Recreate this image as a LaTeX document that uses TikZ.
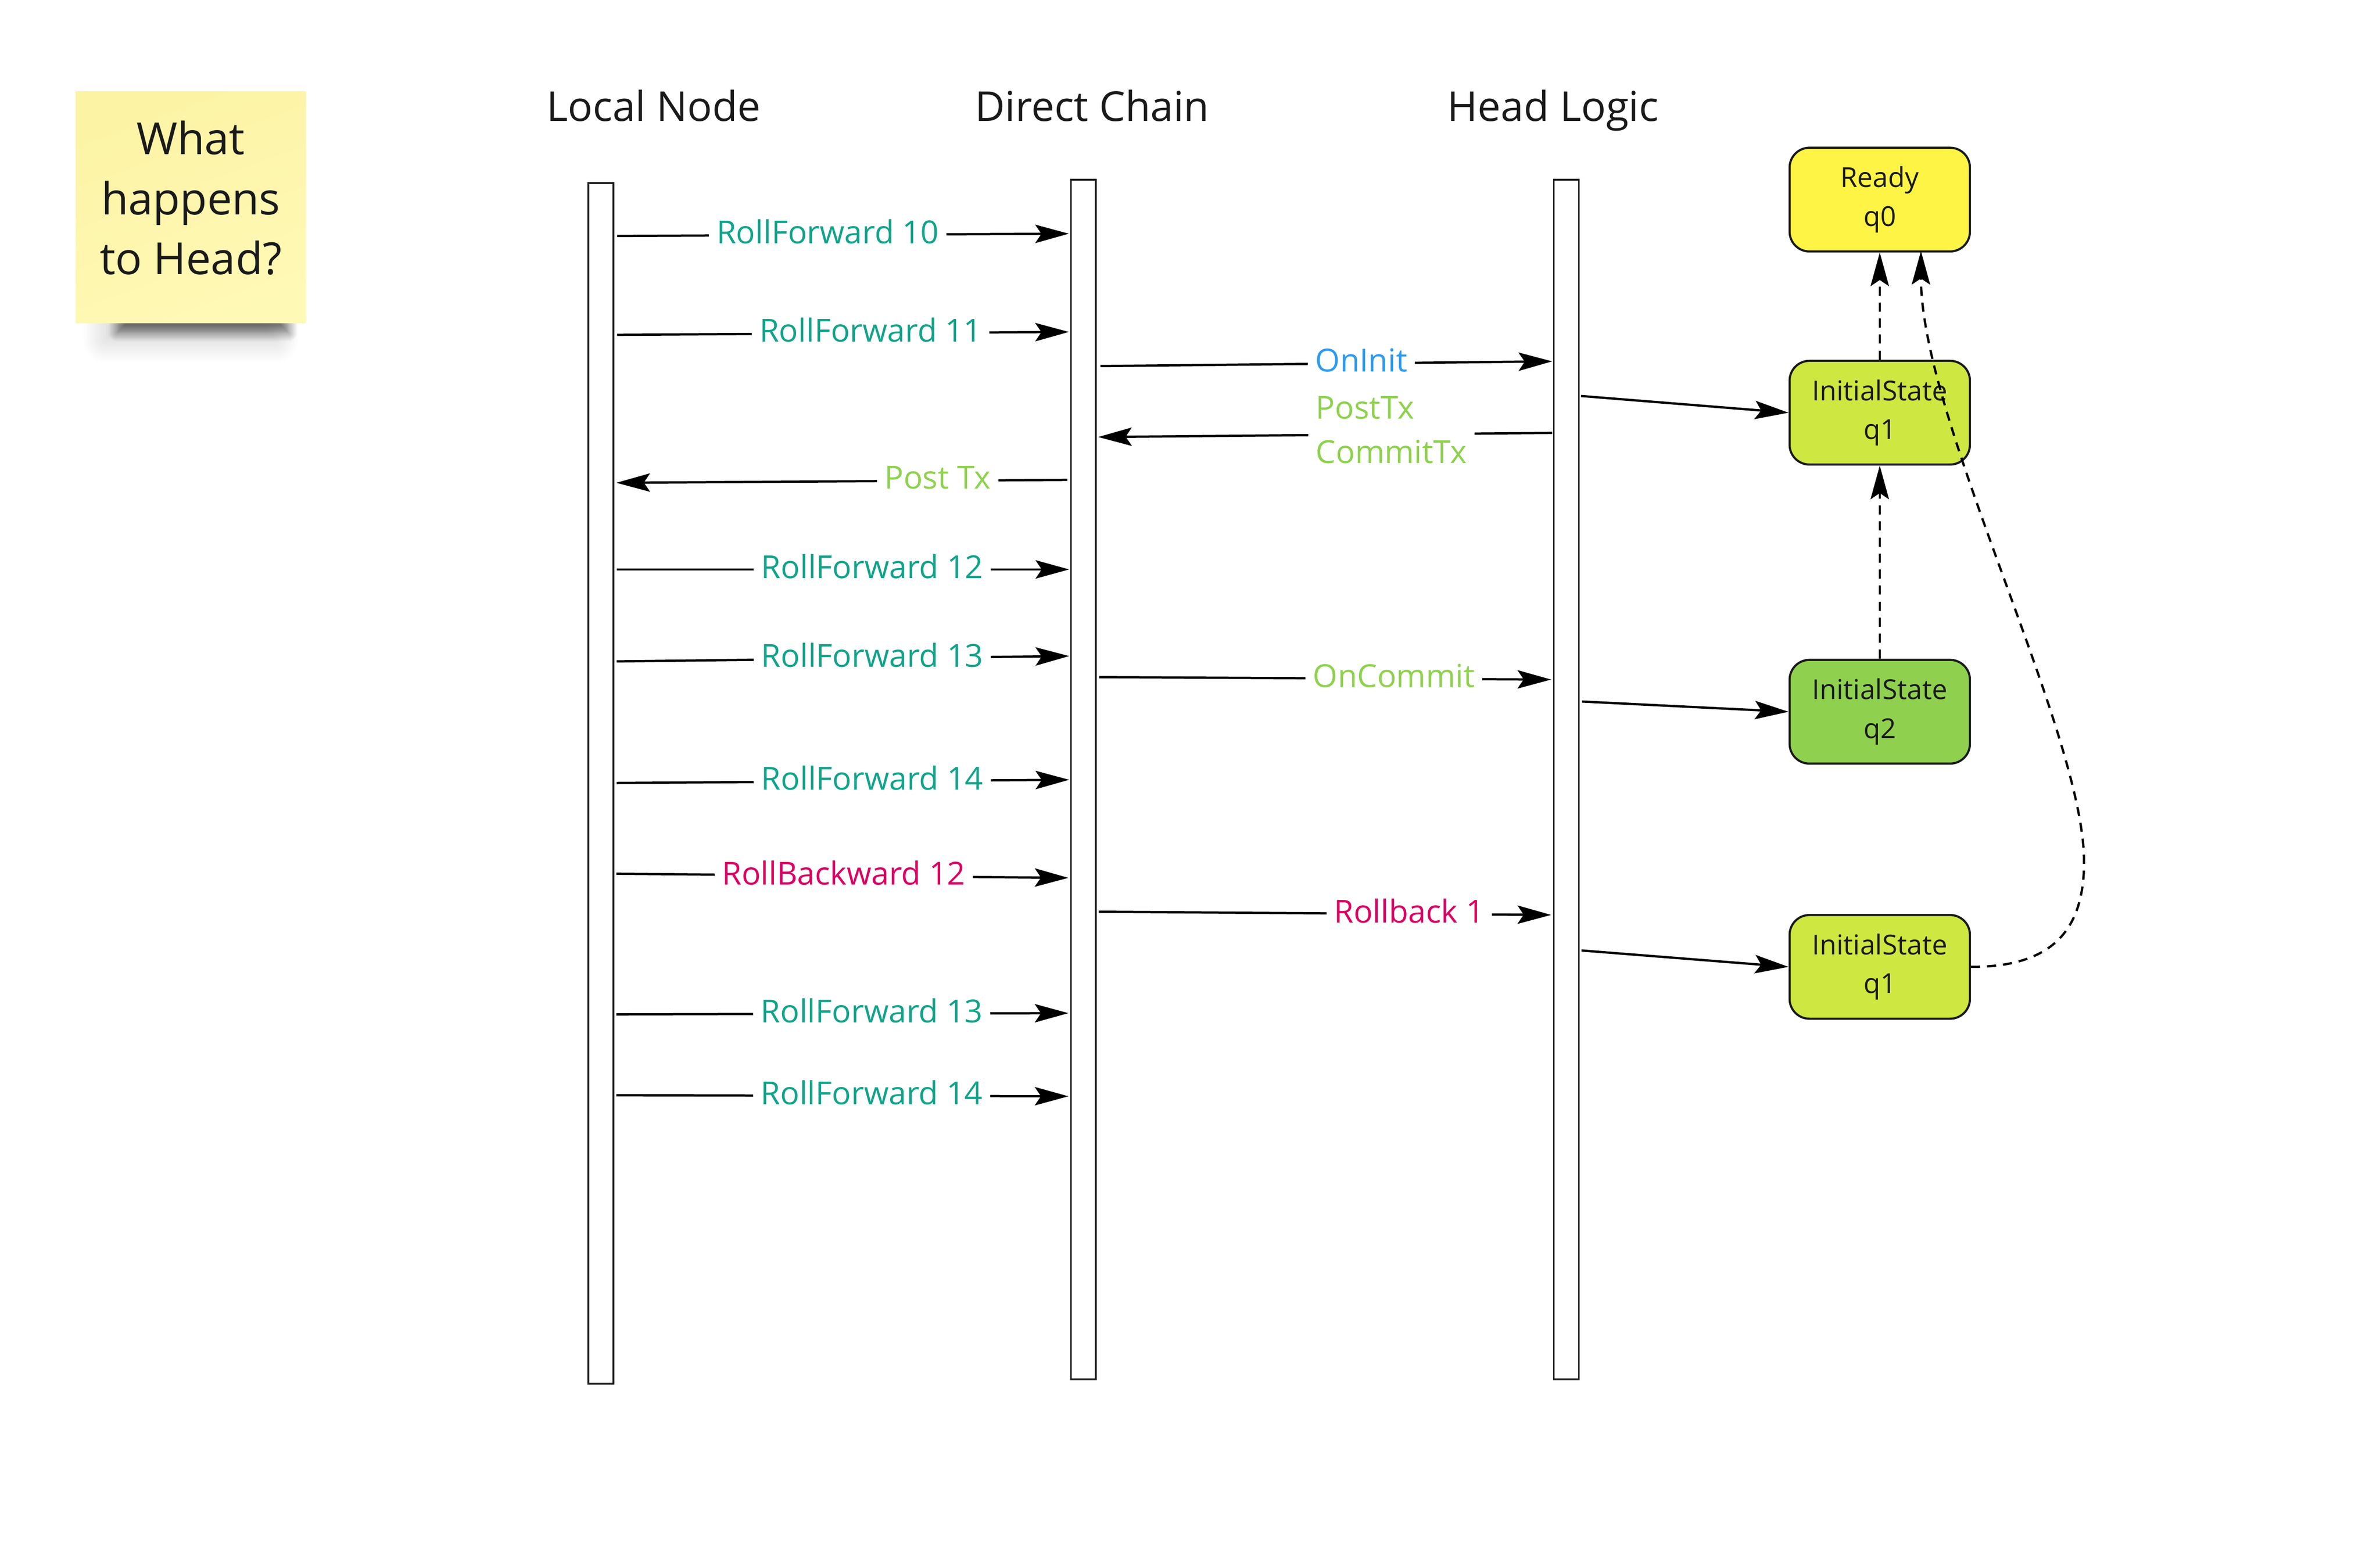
\documentclass[tikz,border=0pt]{standalone}
\usepackage{fontspec}
\setmainfont{Open Sans}
\usetikzlibrary{arrows.meta,shadows.blur}
\definecolor{ink}{HTML}{1A1A1A}
\definecolor{rfcol}{HTML}{12A38A}
\definecolor{blucol}{HTML}{2D9BF0}
\definecolor{lgcol}{HTML}{8FD14F}
\definecolor{magcol}{HTML}{DA0063}
\definecolor{yelfill}{HTML}{FEF445}
\definecolor{limefill}{HTML}{CEE741}
\definecolor{grnfill}{HTML}{8FD14F}
\definecolor{stickyA}{HTML}{FCF3A4}
\definecolor{stickyB}{HTML}{FFF9B6}
\begin{document}
\begin{tikzpicture}[x=1pt,y=-1pt,
  bar/.style={draw=ink, line width=1.2pt, fill=white, minimum width=16.4pt, inner sep=0pt},
  msg/.style={draw=black, line width=1.5pt, -{Stealth[length=22pt,width=12pt,inset=4pt]}},
  dsh/.style={msg, dash pattern=on 6pt off 4.5pt},
  lbl/.style={fill=white, inner xsep=5pt, inner ysep=2pt, yshift=2pt, font=\fontsize{20.8}{28}\selectfont},
  hdr/.style={font=\fontsize{27}{32}\selectfont, text=ink, inner sep=0pt},
  state/.style={draw=ink, line width=1.4pt, rounded corners=13pt, minimum width=118.2pt,
    minimum height=68pt, align=center, inner sep=0pt, font=\fontsize{18}{25.5}\selectfont, text=ink},
]
\useasboundingbox (0,0) rectangle (1560,1023.06);

% sticky note with its shadow
\path[blur shadow={shadow xshift=0pt, shadow yshift=-10pt, shadow opacity=22,
  shadow blur radius=16pt, shadow blur steps=16}] (70,185) rectangle (180,212);
\path[blur shadow={shadow xshift=3pt, shadow yshift=-6pt, shadow opacity=55,
  shadow blur radius=6pt, shadow blur steps=10}] (74,180) rectangle (186,212);
\shade[top color=stickyA, bottom color=stickyB, shading angle=20] (49.7,59.8) rectangle (200.4,211.7);
\node[align=center, text=ink, inner sep=0pt, font=\fontsize{29}{39.3}\selectfont] (note) at (125.05,129.8) {What\\happens\\to Head?};

% headers
\node[hdr, anchor=base] (hln) at (428.5,79.3) {Local Node};
\node[hdr, anchor=base] (hdc) at (715.8,79.3) {Direct Chain};
\node[hdr, anchor=base] (hhl) at (1018,79.3) {Head Logic};

% lifelines
\node[bar, minimum height=787pt] (ln) at (393.75,513.5) {};
\node[bar, minimum height=786.4pt] (dc) at (710.15,511) {};
\node[bar, minimum height=786.4pt] (hl) at (1026.65,511) {};

% states
\node[state, fill=yelfill] (s0) at (1232.1,130.85) {Ready\\q0};
\node[state, fill=limefill] (s1) at (1232.1,270.55) {InitialState\\q1};
\node[state, fill=grnfill] (s2) at (1232.1,466.6) {InitialState\\q2};
\node[state, fill=limefill] (s3) at (1232.1,633.85) {InitialState\\q1};

% message end points
\coordinate (m1s) at (404.5,154.7);   \coordinate (m1e) at (700.6,153.2);
\coordinate (m2s) at (404.5,219.5);   \coordinate (m2e) at (700.6,217.6);
\coordinate (m3s) at (721.3,240.0);   \coordinate (m3e) at (1017.4,236.9);
\coordinate (m4s) at (1017.4,283.8);  \coordinate (m4e) at (719.8,286.5);
\coordinate (m5s) at (699.6,314.6);   \coordinate (m5e) at (404.0,316.5);
\coordinate (m6s) at (404.2,373.3);   \coordinate (m6e) at (700.8,373.3);
\coordinate (m7s) at (404.2,433.6);   \coordinate (m7e) at (700.8,430.1);
\coordinate (m8s) at (720.5,443.9);   \coordinate (m8e) at (1016.7,445.5);
\coordinate (m9s) at (404.2,513.3);   \coordinate (m9e) at (700.8,511.2);
\coordinate (m10s) at (404.0,572.8);  \coordinate (m10e) at (700.3,575.5);
\coordinate (m11s) at (720.2,597.7);  \coordinate (m11e) at (1016.7,599.8);
\coordinate (m12s) at (404.0,665.0);  \coordinate (m12e) at (700.3,664.2);
\coordinate (m13s) at (404.0,718.0);  \coordinate (m13e) at (700.3,718.7);
\coordinate (h1) at (1036.3,259.6);
\coordinate (h2) at (1037.0,459.9);
\coordinate (h3) at (1036.6,623.1);

% messages
\draw[msg] (m1s) -- node[lbl, text=rfcol, pos=0.466] {RollForward 10} (m1e);
\draw[msg] (m2s) -- node[lbl, text=rfcol, pos=0.561] {RollForward 11} (m2e);
\draw[msg] (m3s) -- node[lbl, text=blucol, pos=0.5775] {OnInit} (m3e);
\draw[msg] (m4s) -- node[lbl, text=lgcol, pos=0.354, yshift=0.8pt, align=left, font=\fontsize{20.8}{29}\selectfont] {PostTx\\CommitTx} (m4e);
\draw[msg] (m5s) -- node[lbl, text=lgcol, pos=0.2875] {Post Tx} (m5e);
\draw[msg] (m6s) -- node[lbl, text=rfcol, pos=0.565] {RollForward 12} (m6e);
\draw[msg] (m7s) -- node[lbl, text=rfcol, pos=0.565] {RollForward 13} (m7e);
\draw[msg] (m8s) -- node[lbl, text=lgcol, pos=0.652] {OnCommit} (m8e);
\draw[msg] (m9s) -- node[lbl, text=rfcol, pos=0.565] {RollForward 14} (m9e);
\draw[msg] (m10s) -- node[lbl, text=magcol, pos=0.503] {RollBackward 12} (m10e);
\draw[msg] (m11s) -- node[lbl, text=magcol, pos=0.686] {Rollback 1} (m11e);
\draw[msg] (m12s) -- node[lbl, text=rfcol, pos=0.565] {RollForward 13} (m12e);
\draw[msg] (m13s) -- node[lbl, text=rfcol, pos=0.565] {RollForward 14} (m13e);

% head logic to states
\draw[msg] (h1) -- (s1.west);
\draw[msg] (h2) -- (s2.west);
\draw[msg] (h3) -- (s3.west);

% state transitions
\draw[dsh] (s1.north) -- (s0.south);
\draw[dsh] (s2.north) -- (s1.south);
\coordinate (bend) at (1366,565);
\draw[dsh] (s3.east) .. controls (1345,634) and (1366,610) .. (bend)
  .. controls (1366,480) and (1259,275) .. ([xshift=27pt,yshift=1pt]s0.south);
\end{tikzpicture}
\end{document}
